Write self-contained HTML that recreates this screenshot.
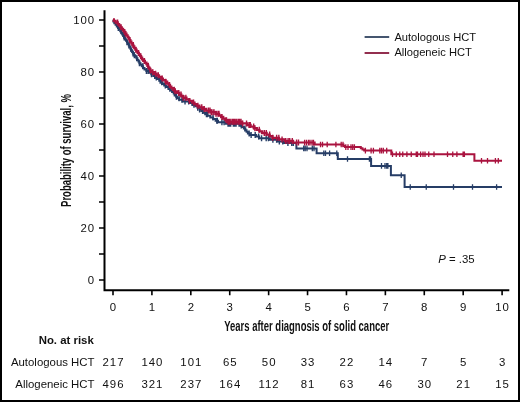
<!DOCTYPE html>
<html><head><meta charset="utf-8"><style>
html,body{margin:0;padding:0;background:#fff;}
body{width:520px;height:402px;position:relative;overflow:hidden;}
.frame{position:absolute;left:0;top:0;width:520px;height:402px;box-sizing:border-box;border:2px solid #000;}
svg{will-change:transform;}
svg text{font-family:"Liberation Sans",sans-serif;fill:#111;}
.t{font-size:11.4px;}
.lg{font-size:11.15px;}
.n{font-size:11.4px;letter-spacing:1.0px;}
.b{font-size:11.4px;font-weight:bold;}
.ttl{font-size:14.5px;font-weight:bold;}
</style></head><body>
<svg width="520" height="402" viewBox="0 0 520 402" style="position:absolute;left:0;top:0"><path d="M104.5,10.3 V291.2 M103.5,290.2 H509.3" stroke="#000" stroke-width="2" fill="none"/><path d="M99,20 H104 M99,46 H104 M99,72 H104 M99,98 H104 M99,124 H104 M99,150 H104 M99,176 H104 M99,202 H104 M99,228 H104 M99,254 H104 M99,280 H104 M113.00,290 V295.2 M151.91,290 V295.2 M190.82,290 V295.2 M229.73,290 V295.2 M268.64,290 V295.2 M307.55,290 V295.2 M346.46,290 V295.2 M385.37,290 V295.2 M424.28,290 V295.2 M463.19,290 V295.2 M502.10,290 V295.2" stroke="#000" stroke-width="1.6" fill="none"/><text x="95.2" y="24.1" text-anchor="end" class="n">100</text><text x="95.2" y="76.1" text-anchor="end" class="n">80</text><text x="95.2" y="128.1" text-anchor="end" class="n">60</text><text x="95.2" y="180.1" text-anchor="end" class="n">40</text><text x="95.2" y="232.1" text-anchor="end" class="n">20</text><text x="95.2" y="284.1" text-anchor="end" class="n">0</text><text x="113.50" y="310.6" text-anchor="middle" class="n">0</text><text x="152.41" y="310.6" text-anchor="middle" class="n">1</text><text x="191.32" y="310.6" text-anchor="middle" class="n">2</text><text x="230.23" y="310.6" text-anchor="middle" class="n">3</text><text x="269.14" y="310.6" text-anchor="middle" class="n">4</text><text x="308.05" y="310.6" text-anchor="middle" class="n">5</text><text x="346.96" y="310.6" text-anchor="middle" class="n">6</text><text x="385.87" y="310.6" text-anchor="middle" class="n">7</text><text x="424.78" y="310.6" text-anchor="middle" class="n">8</text><text x="463.69" y="310.6" text-anchor="middle" class="n">9</text><text x="502.60" y="310.6" text-anchor="middle" class="n">10</text><text x="224.2" y="330.7" class="ttl" textLength="165" lengthAdjust="spacingAndGlyphs">Years after diagnosis of solid cancer</text><text transform="translate(71.1,206.9) rotate(-90)" class="ttl" textLength="112.8" lengthAdjust="spacingAndGlyphs">Probability of survival, %</text><path d="M113.00,20.00 L113.40,20.00 L113.40,21.60 L114.32,21.60 L114.32,23.19 L115.59,23.19 L115.59,24.79 L116.79,24.79 L116.79,26.39 L117.96,26.39 L117.96,27.99 L119.12,27.99 L119.12,29.58 L120.24,29.58 L120.24,31.18 L121.24,31.18 L121.24,32.78 L122.24,32.78 L122.24,34.38 L123.12,34.38 L123.12,35.97 L123.97,35.97 L123.97,37.57 L124.96,37.57 L124.96,39.17 L125.99,39.17 L125.99,40.77 L126.95,40.77 L126.95,42.36 L127.85,42.36 L127.85,43.96 L128.75,43.96 L128.75,45.56 L129.59,45.56 L129.59,47.16 L130.41,47.16 L130.41,48.75 L131.23,48.75 L131.23,50.35 L132.05,50.35 L132.05,51.95 L132.87,51.95 L132.87,53.55 L134.00,53.55 L134.00,55.14 L135.18,55.14 L135.18,56.74 L136.36,56.74 L136.36,58.34 L137.45,58.34 L137.45,59.94 L138.43,59.94 L138.43,61.53 L139.41,61.53 L139.41,63.13 L140.51,63.13 L140.51,64.73 L141.80,64.73 L141.80,66.32 L143.10,66.32 L143.10,67.92 L144.46,67.92 L144.46,69.52 L146.39,69.52 L146.39,71.12 L149.03,71.12 L149.03,72.71 L151.27,72.71 L151.27,74.31 L153.26,74.31 L153.26,75.91 L155.26,75.91 L155.26,77.51 L157.26,77.51 L157.26,79.10 L159.25,79.10 L159.25,80.70 L161.00,80.70 L161.00,82.30 L162.60,82.30 L162.60,83.90 L164.19,83.90 L164.19,85.49 L166.19,85.49 L166.19,87.09 L168.52,87.09 L168.52,88.69 L170.49,88.69 L170.49,90.29 L172.08,90.29 L172.08,91.88 L173.68,91.88 L173.68,93.48 L174.93,93.48 L174.93,95.08 L176.09,95.08 L176.09,96.68 L177.25,96.68 L177.25,98.27 L179.14,98.27 L179.14,99.87 L182.76,99.87 L182.76,101.47 L189.18,101.47 L189.18,103.06 L192.50,103.06 L192.50,104.66 L195.43,104.66 L195.43,106.26 L197.50,106.26 L197.50,107.86 L199.56,107.86 L199.56,109.45 L201.25,109.45 L201.25,111.05 L202.85,111.05 L202.85,112.65 L205.17,112.65 L205.17,114.25 L207.57,114.25 L207.57,115.84 L210.29,115.84 L210.29,117.44 L213.11,117.44 L213.11,119.04 L215.56,119.04 L215.56,120.64 L218.03,120.64 L218.03,122.23 L225.83,122.23 L225.83,123.83 L241.14,123.83 L241.14,125.43 L242.23,125.43 L242.23,127.03 L243.82,127.03 L243.82,128.62 L245.42,128.62 L245.42,130.22 L246.54,130.22 L246.54,131.82 L247.88,131.82 L247.88,133.42 L249.86,133.42 L249.86,135.01 L256.18,135.01 L256.18,136.61 L259.17,136.61 L259.17,138.21 L269.90,138.21 L269.90,139.81 L277.62,139.81 L277.62,141.40 L284.08,141.40 L284.08,143.00 L296.40,143.00" stroke="#263d66" stroke-width="2.0" fill="none" stroke-linejoin="miter"/><path d="M296.40,143.00 L296.40,148.40 L316.60,148.40 L316.60,153.20 L337.80,153.20 L337.80,159.00 L371.10,159.00 L371.10,165.90 L390.90,165.90 L390.90,175.30 L404.60,175.30 L404.60,187.00 L502.00,187.00" stroke="#263d66" stroke-width="2" fill="none" stroke-linejoin="miter"/><path d="M118.29,24.99 V30.99 M121.15,28.18 V34.18 M123.87,32.97 V38.97 M126.99,39.36 V45.36 M130.69,45.75 V51.75 M134.33,52.14 V58.14 M136.70,55.34 V61.34 M139.43,60.13 V66.13 M142.77,63.32 V69.32 M146.41,68.12 V74.12 M148.07,68.12 V74.12 M151.46,71.31 V77.31 M154.74,72.91 V78.91 M156.28,74.51 V80.51 M160.13,77.70 V83.70 M161.71,79.30 V85.30 M165.31,82.49 V88.49 M168.38,84.09 V90.09 M169.91,85.69 V91.69 M174.37,90.48 V96.48 M176.39,93.68 V99.68 M179.10,95.27 V101.27 M181.96,96.87 V102.87 M185.03,98.47 V104.47 M188.66,98.47 V104.47 M192.22,100.06 V106.06 M193.94,101.66 V107.66 M197.67,104.86 V110.86 M199.57,106.45 V112.45 M202.67,108.05 V114.05 M206.44,111.25 V117.25 M207.30,111.25 V117.25 M213.03,114.44 V120.44 M216.77,117.64 V123.64 M221.91,119.23 V125.23 M224.10,119.23 V125.23 M228.03,120.83 V126.83 M230.68,120.83 V126.83 M233.38,120.83 V126.83 M236.05,120.83 V126.83 M239.06,120.83 V126.83 M241.25,122.43 V128.43 M244.97,125.62 V131.62 M249.15,130.42 V136.42 M251.13,132.01 V138.01 M255.21,132.01 V138.01 M258.68,133.61 V139.61 M261.55,135.21 V141.21 M266.19,135.21 V141.21 M268.41,135.21 V141.21 M272.89,136.81 V142.81 M276.62,136.81 V142.81 M279.33,138.40 V144.40 M282.76,138.40 V144.40 M287.91,140.00 V146.00 M291.74,140.00 V146.00 M293.36,140.00 V146.00 M217.30,117.64 V123.64 M229.40,120.83 V126.83 M234.60,120.83 V126.83 M240.40,120.83 V126.83 M124.20,34.57 V40.57 M129.00,42.56 V48.56 M133.00,50.55 V56.55 M143.00,63.32 V69.32" stroke="#263d66" stroke-width="1.4" fill="none"/><path d="M303.70,145.60 V151.20 M305.20,145.60 V151.20 M307.00,145.60 V151.20 M312.30,145.60 V151.20 M314.00,145.60 V151.20 M323.80,150.40 V156.00 M325.50,150.40 V156.00 M329.60,150.40 V156.00 M336.80,150.40 V156.00 M347.50,156.20 V161.80 M369.40,156.20 V161.80 M370.60,156.20 V161.80 M381.50,163.10 V168.70 M385.00,163.10 V168.70 M386.70,163.10 V168.70 M387.90,163.10 V168.70 M401.25,172.50 V178.10 M410.25,184.20 V189.80 M426.25,184.20 V189.80 M453.50,184.20 V189.80 M472.50,184.20 V189.80 M496.60,184.20 V189.80" stroke="#263d66" stroke-width="1.3" fill="none"/><path d="M113.00,19.30 L113.80,19.30 L113.80,20.90 L115.59,20.90 L115.59,22.50 L117.75,22.50 L117.75,24.10 L119.09,24.10 L119.09,25.71 L120.42,25.71 L120.42,27.31 L121.76,27.31 L121.76,28.91 L123.01,28.91 L123.01,30.51 L124.15,30.51 L124.15,32.11 L125.29,32.11 L125.29,33.71 L126.44,33.71 L126.44,35.31 L127.57,35.31 L127.57,36.91 L128.50,36.91 L128.50,38.52 L129.43,38.52 L129.43,40.12 L130.38,40.12 L130.38,41.72 L131.35,41.72 L131.35,43.32 L132.33,43.32 L132.33,44.92 L133.31,44.92 L133.31,46.52 L134.28,46.52 L134.28,48.12 L135.32,48.12 L135.32,49.72 L136.51,49.72 L136.51,51.33 L137.71,51.33 L137.71,52.93 L138.90,52.93 L138.90,54.53 L140.08,54.53 L140.08,56.13 L141.10,56.13 L141.10,57.73 L142.13,57.73 L142.13,59.33 L143.23,59.33 L143.23,60.93 L144.83,60.93 L144.83,62.54 L146.44,62.54 L146.44,64.14 L147.40,64.14 L147.40,65.74 L148.28,65.74 L148.28,67.34 L149.28,67.34 L149.28,68.94 L150.34,68.94 L150.34,70.54 L151.88,70.54 L151.88,72.14 L153.85,72.14 L153.85,73.74 L156.66,73.74 L156.66,75.35 L158.96,75.35 L158.96,76.95 L161.00,76.95 L161.00,78.55 L162.94,78.55 L162.94,80.15 L165.39,80.15 L165.39,81.75 L167.17,81.75 L167.17,83.35 L168.69,83.35 L168.69,84.95 L169.99,84.95 L169.99,86.55 L171.36,86.55 L171.36,88.16 L172.96,88.16 L172.96,89.76 L174.76,89.76 L174.76,91.36 L176.94,91.36 L176.94,92.96 L179.34,92.96 L179.34,94.56 L181.34,94.56 L181.34,96.16 L183.33,96.16 L183.33,97.76 L186.43,97.76 L186.43,99.36 L189.44,99.36 L189.44,100.97 L192.15,100.97 L192.15,102.57 L194.50,102.57 L194.50,104.17 L196.69,104.17 L196.69,105.77 L199.42,105.77 L199.42,107.37 L202.94,107.37 L202.94,108.97 L206.20,108.97 L206.20,110.57 L210.72,110.57 L210.72,112.18 L215.75,112.18 L215.75,113.78 L219.04,113.78 L219.04,115.38 L221.17,115.38 L221.17,116.98 L223.22,116.98 L223.22,118.58 L225.30,118.58 L225.30,120.18 L227.97,120.18 L227.97,121.78 L241.65,121.78 L241.65,123.38 L246.92,123.38 L246.92,124.99 L250.57,124.99 L250.57,126.59 L253.78,126.59 L253.78,128.19 L256.81,128.19 L256.81,129.79 L259.46,129.79 L259.46,131.39 L261.99,131.39 L261.99,132.99 L266.64,132.99 L266.64,134.59 L269.65,134.59 L269.65,136.19 L272.29,136.19 L272.29,137.80 L278.95,137.80 L278.95,139.40 L284.80,139.40 L284.80,141.00 L293.00,141.00 L293.00,142.60 L297.00,142.60" stroke="#aa133f" stroke-width="2.3" fill="none" stroke-linejoin="miter"/><path d="M297.00,142.60 L314.70,142.60 L314.70,144.50 L343.50,144.50 L343.50,146.00 L345.00,146.00 L345.00,147.10 L360.80,147.10 L360.80,148.30 L362.50,148.30 L362.50,149.50 L364.20,149.50 L364.20,150.60 L391.30,150.60 L391.30,154.20 L474.40,154.20 L474.40,160.80 L502.00,160.80" stroke="#aa133f" stroke-width="2" fill="none" stroke-linejoin="miter"/><path d="M117.58,19.50 V25.50 M120.90,24.31 V30.31 M124.56,29.11 V35.11 M125.53,30.71 V36.71 M129.74,37.12 V43.12 M133.28,41.92 V47.92 M135.95,46.72 V52.72 M138.58,49.93 V55.93 M140.73,53.13 V59.13 M144.44,57.93 V63.93 M148.26,62.74 V68.74 M150.35,67.54 V73.54 M152.84,69.14 V75.14 M155.61,70.74 V76.74 M158.31,72.35 V78.35 M162.21,75.55 V81.55 M165.71,78.75 V84.75 M169.52,81.95 V87.95 M174.26,86.76 V92.76 M175.10,88.36 V94.36 M178.75,89.96 V95.96 M181.05,91.56 V97.56 M183.39,94.76 V100.76 M185.86,94.76 V100.76 M189.44,97.97 V103.97 M193.56,99.57 V105.57 M197.87,102.77 V108.77 M201.76,104.37 V110.37 M204.25,105.97 V111.97 M208.44,107.57 V113.57 M211.30,109.18 V115.18 M213.79,109.18 V115.18 M216.09,110.78 V116.78 M218.96,110.78 V116.78 M221.91,113.98 V119.98 M226.14,117.18 V123.18 M228.12,118.78 V124.78 M232.69,118.78 V124.78 M234.18,118.78 V124.78 M236.26,118.78 V124.78 M239.11,118.78 V124.78 M242.66,120.38 V126.38 M246.55,120.38 V126.38 M249.00,121.99 V127.99 M250.23,121.99 V127.99 M253.67,123.59 V129.59 M254.93,125.19 V131.19 M259.25,126.79 V132.79 M264.28,129.99 V135.99 M266.29,129.99 V135.99 M269.63,131.59 V137.59 M272.73,134.80 V140.80 M276.63,134.80 V140.80 M278.83,134.80 V140.80 M282.05,136.40 V142.40 M285.75,138.00 V144.00 M288.12,138.00 V144.00 M289.73,138.00 V144.00 M292.29,138.00 V144.00 M296.55,139.60 V145.60 M298.49,139.60 V145.60 M226.50,117.18 V123.18 M228.00,118.78 V124.78 M229.50,118.78 V124.78 M231.00,118.78 V124.78 M233.00,118.78 V124.78 M234.50,118.78 V124.78 M236.00,118.78 V124.78 M238.00,118.78 V124.78 M239.50,118.78 V124.78 M241.00,118.78 V124.78 M210.00,107.57 V113.57 M212.00,109.18 V115.18 M214.00,109.18 V115.18 M216.00,110.78 V116.78 M218.00,110.78 V116.78" stroke="#aa133f" stroke-width="1.4" fill="none"/><path d="M304.60,139.80 V145.40 M306.50,139.80 V145.40 M308.50,139.80 V145.40 M310.00,139.80 V145.40 M312.00,139.80 V145.40 M313.50,139.80 V145.40 M320.50,141.70 V147.30 M322.50,141.70 V147.30 M327.20,141.70 V147.30 M335.90,141.70 V147.30 M341.20,141.70 V147.30 M343.00,141.70 V147.30 M345.80,144.30 V149.90 M348.00,144.30 V149.90 M351.00,144.30 V149.90 M352.70,144.30 V149.90 M354.40,144.30 V149.90 M365.40,147.80 V153.40 M371.10,147.80 V153.40 M373.40,147.80 V153.40 M379.80,147.80 V153.40 M381.50,147.80 V153.40 M383.30,147.80 V153.40 M386.70,147.80 V153.40 M392.50,151.40 V157.00 M396.25,151.40 V157.00 M399.75,151.40 V157.00 M402.75,151.40 V157.00 M406.90,151.40 V157.00 M411.25,151.40 V157.00 M416.25,151.40 V157.00 M417.50,151.40 V157.00 M420.60,151.40 V157.00 M423.00,151.40 V157.00 M425.00,151.40 V157.00 M428.75,151.40 V157.00 M434.00,151.40 V157.00 M447.50,151.40 V157.00 M452.75,151.40 V157.00 M456.90,151.40 V157.00 M463.10,151.40 V157.00 M464.40,151.40 V157.00 M481.50,158.00 V163.60 M487.50,158.00 V163.60 M495.40,158.00 V163.60 M498.30,158.00 V163.60" stroke="#aa133f" stroke-width="1.3" fill="none"/><path d="M364.6,37 H389.2" stroke="#3c4d68" stroke-width="1.9"/><path d="M364.6,53 H389.2" stroke="#8e2446" stroke-width="1.9"/><text x="394.4" y="40.6" class="lg">Autologous HCT</text><text x="394.4" y="56.1" class="lg">Allogeneic HCT</text><text x="438.2" y="263.3" class="t"><tspan font-style="italic">P</tspan> = .35</text><text x="38.7" y="344.1" class="b">No. at risk</text><text x="94.5" y="365.9" text-anchor="end" class="t">Autologous HCT</text><text x="94.5" y="387.8" text-anchor="end" class="t">Allogeneic HCT</text><text x="113.50" y="365.9" text-anchor="middle" class="n">217</text><text x="113.50" y="387.8" text-anchor="middle" class="n">496</text><text x="152.41" y="365.9" text-anchor="middle" class="n">140</text><text x="152.41" y="387.8" text-anchor="middle" class="n">321</text><text x="191.32" y="365.9" text-anchor="middle" class="n">101</text><text x="191.32" y="387.8" text-anchor="middle" class="n">237</text><text x="230.23" y="365.9" text-anchor="middle" class="n">65</text><text x="230.23" y="387.8" text-anchor="middle" class="n">164</text><text x="269.14" y="365.9" text-anchor="middle" class="n">50</text><text x="269.14" y="387.8" text-anchor="middle" class="n">112</text><text x="308.05" y="365.9" text-anchor="middle" class="n">33</text><text x="308.05" y="387.8" text-anchor="middle" class="n">81</text><text x="346.96" y="365.9" text-anchor="middle" class="n">22</text><text x="346.96" y="387.8" text-anchor="middle" class="n">63</text><text x="385.87" y="365.9" text-anchor="middle" class="n">14</text><text x="385.87" y="387.8" text-anchor="middle" class="n">46</text><text x="424.78" y="365.9" text-anchor="middle" class="n">7</text><text x="424.78" y="387.8" text-anchor="middle" class="n">30</text><text x="463.69" y="365.9" text-anchor="middle" class="n">5</text><text x="463.69" y="387.8" text-anchor="middle" class="n">21</text><text x="502.60" y="365.9" text-anchor="middle" class="n">3</text><text x="502.60" y="387.8" text-anchor="middle" class="n">15</text></svg>
<div class="frame"></div>
</body></html>
